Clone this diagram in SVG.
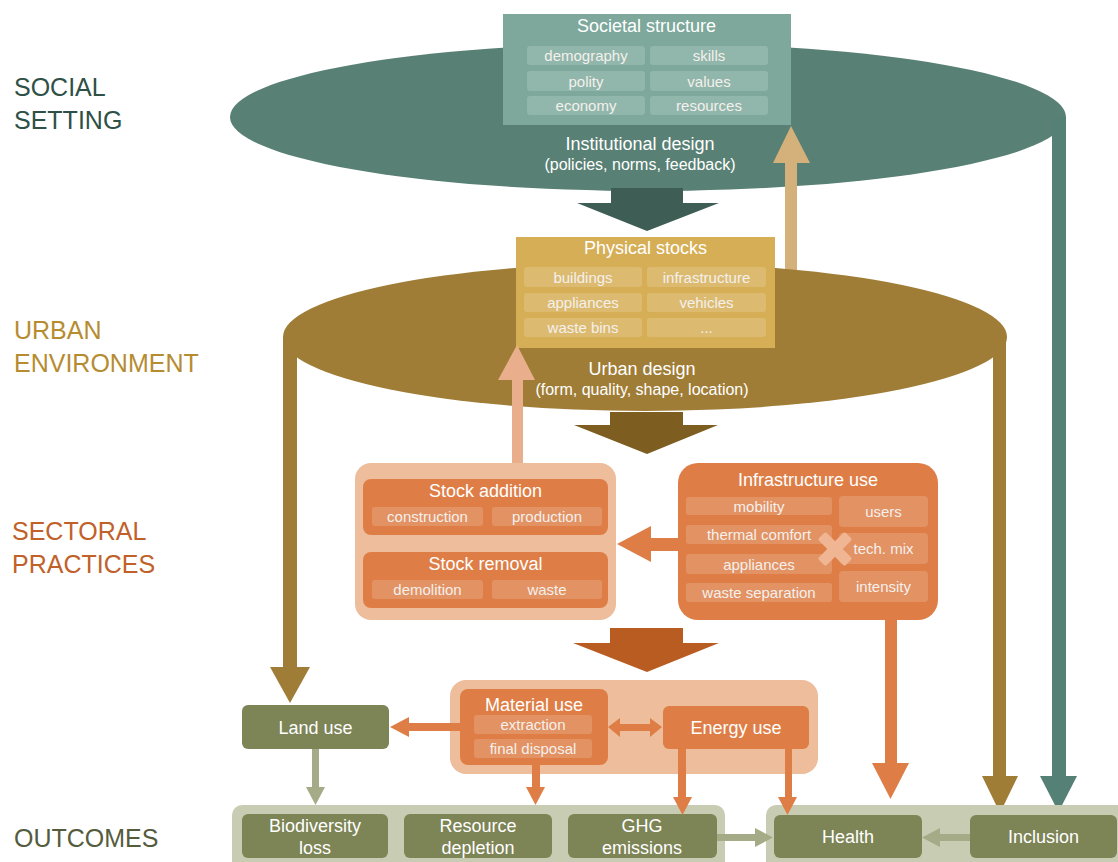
<svg xmlns="http://www.w3.org/2000/svg" width="1118" height="862" viewBox="0 0 1118 862">
<style>
text{font-family:"Liberation Sans",Arial,sans-serif;fill:#fff;text-anchor:middle}
.lbl{font-size:25px;text-anchor:start}
.t{font-size:18px}
.s{font-size:15px;fill:#f4f0ec}
.sub{fill:#fff;fill-opacity:0.16}
.org{fill:#DE7E46}
.olv{fill:#7D8456}
.oa{fill:#A5AB86}
</style>
<rect width="1118" height="862" fill="#fff"/>
<g id="labels">
<text class="lbl" x="14" y="96" style="fill:#2E5047">SOCIAL</text>
<text class="lbl" x="14" y="129" style="fill:#2E5047">SETTING</text>
<text class="lbl" x="14" y="339" style="fill:#B68C31">URBAN</text>
<text class="lbl" x="14" y="372" style="fill:#B68C31">ENVIRONMENT</text>
<text class="lbl" x="12" y="540" style="fill:#C1612A">SECTORAL</text>
<text class="lbl" x="12" y="573" style="fill:#C1612A">PRACTICES</text>
<text class="lbl" x="14" y="847" style="fill:#545C3D">OUTCOMES</text>
</g>
<g id="social-setting">
<ellipse cx="648" cy="117" rx="418" ry="74" fill="#588074"/>
<text class="t" x="640" y="149.5">Institutional design</text>
<text x="640" y="169.5" style="font-size:16px">(policies, norms, feedback)</text>
</g>
<g id="connectors">
<rect x="1052" y="117" width="14" height="661" fill="#558076"/>
<polygon points="1040,776 1077,776 1058.5,812" fill="#558076"/>
<polygon points="611,188 683,188 683,203 719,203 647,231 577,203 611,203" fill="#3E5E55"/>
<rect x="785" y="160" width="12" height="112" fill="#D4B07A"/>
<polygon points="773,163 810,163 791,126" fill="#D4B07A"/>
</g>
<g id="societal-structure">
<rect x="503" y="14" width="288" height="111" fill="#7DA89B"/>
<text class="t" x="646.5" y="32">Societal structure</text>
<rect class="sub" x="527" y="46" width="118" height="19" rx="3"/>
<rect class="sub" x="650" y="46" width="118" height="19" rx="3"/>
<rect class="sub" x="527" y="71" width="118" height="20" rx="3"/>
<rect class="sub" x="650" y="71" width="118" height="20" rx="3"/>
<rect class="sub" x="527" y="96" width="118" height="19" rx="3"/>
<rect class="sub" x="650" y="96" width="118" height="19" rx="3"/>
<text class="s" x="586" y="61">demography</text>
<text class="s" x="709" y="61">skills</text>
<text class="s" x="586" y="86.5">polity</text>
<text class="s" x="709" y="86.5">values</text>
<text class="s" x="586" y="111">economy</text>
<text class="s" x="709" y="111">resources</text>
</g>
<g id="urban-environment">
<rect x="283" y="337" width="14" height="333" fill="#A07D37"/>
<polygon points="270,667 310,667 290,703" fill="#A07D37"/>
<rect x="993" y="338" width="13" height="440" fill="#A07D37"/>
<polygon points="982,776 1018,776 1000,813" fill="#A07D37"/>
<ellipse cx="645" cy="337" rx="362" ry="74" fill="#A07D37"/>
<text class="t" x="642" y="374.5">Urban design</text>
<text x="642" y="394.5" style="font-size:16px">(form, quality, shape, location)</text>
<polygon points="610,412 683,412 683,425 718,425 647,454 574,425 610,425" fill="#7D5E20"/>
</g>
<g id="physical-stocks">
<rect x="516" y="237" width="259" height="111" fill="#D6AE56"/>
<text class="t" x="645.5" y="253.5">Physical stocks</text>
<rect class="sub" x="524" y="267" width="118" height="20" rx="3"/>
<rect class="sub" x="647" y="267" width="119" height="20" rx="3"/>
<rect class="sub" x="524" y="293" width="118" height="19" rx="3"/>
<rect class="sub" x="647" y="293" width="119" height="19" rx="3"/>
<rect class="sub" x="524" y="318" width="118" height="19" rx="3"/>
<rect class="sub" x="647" y="318" width="119" height="19" rx="3"/>
<text class="s" x="583" y="282.5">buildings</text>
<text class="s" x="706.5" y="282.5">infrastructure</text>
<text class="s" x="583" y="308">appliances</text>
<text class="s" x="706.5" y="308">vehicles</text>
<text class="s" x="583" y="333">waste bins</text>
<text class="s" x="706.5" y="333">...</text>
</g>
<g id="connectors-2">
<rect x="512" y="378" width="11" height="87" fill="#E9AF8C"/>
<polygon points="498,380 535,380 517,345" fill="#E9AF8C"/>
<rect x="648" y="538" width="32" height="13" fill="#DE7E46"/>
<polygon points="651,526 651,562 617,544" fill="#DE7E46"/>
<polygon points="610,628 683,628 683,643 719,643 647,672 573,643 610,643" fill="#B95C22"/>
<rect x="885" y="618" width="12" height="147" fill="#DE7E46"/>
<polygon points="872,763 909,763 890.5,799" fill="#DE7E46"/>
</g>
<g id="stock-change">
<rect x="355" y="463" width="261" height="157" rx="16" fill="#EDBD9C"/>
<rect class="org" x="363" y="479" width="245" height="56" rx="8"/>
<text class="t" x="485.5" y="496.5">Stock addition</text>
<rect class="sub" x="372" y="507" width="111" height="19" rx="3"/>
<rect class="sub" x="492" y="507" width="110" height="19" rx="3"/>
<text class="s" x="427.5" y="522">construction</text>
<text class="s" x="547" y="522">production</text>
<rect class="org" x="363" y="552" width="245" height="56" rx="8"/>
<text class="t" x="485.5" y="569.5">Stock removal</text>
<rect class="sub" x="372" y="580" width="111" height="19" rx="3"/>
<rect class="sub" x="492" y="580" width="110" height="19" rx="3"/>
<text class="s" x="427.5" y="595">demolition</text>
<text class="s" x="547" y="595">waste</text>
</g>
<g id="infrastructure-use">
<rect class="org" x="678" y="463" width="260" height="157" rx="20"/>
<text class="t" x="808" y="485.5">Infrastructure use</text>
<rect class="sub" x="686" y="497" width="146" height="18" rx="3"/>
<rect class="sub" x="686" y="525" width="146" height="19" rx="3"/>
<rect class="sub" x="686" y="554" width="146" height="20" rx="3"/>
<rect class="sub" x="686" y="583" width="146" height="19" rx="3"/>
<rect class="sub" x="839" y="496" width="89" height="31" rx="4"/>
<rect class="sub" x="839" y="533" width="89" height="31" rx="4"/>
<rect class="sub" x="839" y="571" width="89" height="31" rx="4"/>
<text class="s" x="759" y="511.5">mobility</text>
<text class="s" x="759" y="540">thermal comfort</text>
<text class="s" x="759" y="569.5">appliances</text>
<text class="s" x="759" y="598">waste separation</text>
<text class="s" x="883.5" y="517">users</text>
<text class="s" x="883.5" y="554">tech. mix</text>
<text class="s" x="883.5" y="592">intensity</text>
<g transform="translate(835 549) rotate(45)" fill="#F0B693">
<rect x="-19" y="-5.5" width="38" height="11" rx="2"/>
<rect x="-5.5" y="-19" width="11" height="38" rx="2"/>
</g>
</g>
<g id="resource-use">
<rect x="450" y="680" width="368" height="94" rx="16" fill="#EDBD9C"/>
<rect class="org" x="460" y="689" width="148" height="76" rx="8"/>
<text class="t" x="534" y="710.5">Material use</text>
<rect class="sub" x="474" y="715" width="118" height="19" rx="3"/>
<rect class="sub" x="474" y="739" width="118" height="19" rx="3"/>
<text class="s" x="533" y="730">extraction</text>
<text class="s" x="533" y="754">final disposal</text>
<rect class="org" x="663" y="706" width="146" height="43" rx="6"/>
<text class="t" x="736" y="734">Energy use</text>
</g>
<g id="land-use">
<rect class="olv" x="242" y="705" width="147" height="44" rx="6"/>
<text class="t" x="315.5" y="733.5">Land use</text>
</g>
<g id="outcomes">
<rect x="232" y="805" width="493" height="70" rx="10" fill="#C8CCB3"/>
<rect x="766" y="805" width="370" height="70" rx="10" fill="#C8CCB3"/>
<rect class="olv" x="242" y="814" width="146" height="44" rx="6"/>
<text class="t" x="315" y="832">Biodiversity</text>
<text class="t" x="315" y="853.5">loss</text>
<rect class="olv" x="404" y="814" width="148" height="44" rx="6"/>
<text class="t" x="478" y="832">Resource</text>
<text class="t" x="478" y="853.5">depletion</text>
<rect class="olv" x="568" y="814" width="149" height="44" rx="6"/>
<text class="t" x="642" y="832">GHG</text>
<text class="t" x="642" y="853.5">emissions</text>
<rect class="olv" x="774" y="815" width="148" height="43" rx="6"/>
<text class="t" x="848" y="843">Health</text>
<rect class="olv" x="970" y="815" width="147" height="43" rx="6"/>
<text class="t" x="1043.5" y="843">Inclusion</text>
</g>
<g id="connectors-3">
<rect x="407" y="723" width="53" height="8" fill="#DE7E46"/>
<polygon points="409,717 409,737 390,727" fill="#DE7E46"/>
<polygon points="608,727 620,718 620,724 650,724 650,718 662,727 650,737 650,731 620,731 620,737" fill="#DE7E46"/>
<rect x="312" y="749" width="7" height="40" class="oa"/>
<polygon points="306,787 325,787 315.5,805" class="oa"/>
<rect x="532" y="765" width="8" height="24" class="org"/>
<polygon points="526,787 545,787 535.5,805" class="org"/>
<rect x="678" y="749" width="8" height="50" class="org"/>
<polygon points="673,797 692,797 682.5,815" class="org"/>
<rect x="785" y="749" width="7" height="50" class="org"/>
<polygon points="778,797 797,797 787.5,815" class="org"/>
<rect x="717" y="834" width="40" height="7" class="oa"/>
<polygon points="755,828 755,847 773,837.5" class="oa"/>
<rect x="938" y="834" width="32" height="7" class="oa"/>
<polygon points="940,828 940,847 922,837.5" class="oa"/>
</g>
</svg>
